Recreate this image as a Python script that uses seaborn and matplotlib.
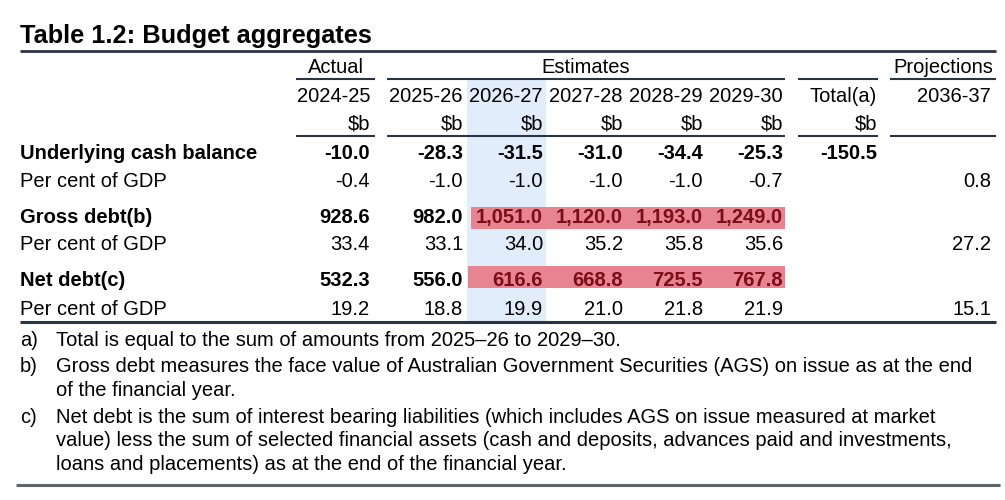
import matplotlib
matplotlib.use("Agg")
import matplotlib.pyplot as plt
import seaborn as sns
from matplotlib.patches import Rectangle

# =============================================
# TABLE 1.2 BUDGET AGGREGATES (drawn as a figure)
# =============================================

title = "Table 1.2: Budget aggregates"
years = ["2024-25", "2025-26", "2026-27", "2027-28", "2028-29", "2029-30", "Total(a)", "2036-37"]
units = ["$b", "$b", "$b", "$b", "$b", "$b", "$b", ""]

row_labels = ["Underlying cash balance", "Per cent of GDP",
              "Gross debt(b)", "Per cent of GDP",
              "Net debt(c)", "Per cent of GDP"]
row_bold = [True, False, True, False, True, False]

ucb = [-10.0, -28.3, -31.5, -31.0, -34.4, -25.3, -150.5, None]
ucb_gdp = [-0.4, -1.0, -1.0, -1.0, -1.0, -0.7, None, 0.8]
gross_debt = [928.6, 982.0, 1051.0, 1120.0, 1193.0, 1249.0, None, None]
gross_gdp = [33.4, 33.1, 34.0, 35.2, 35.8, 35.6, None, 27.2]
net_debt = [532.3, 556.0, 616.6, 668.8, 725.5, 767.8, None, None]
net_gdp = [19.2, 18.8, 19.9, 21.0, 21.8, 21.9, None, 15.1]
rows = [ucb, ucb_gdp, gross_debt, gross_gdp, net_debt, net_gdp]

# rows / columns marked in red in the original
red_rows = [2, 4]
red_cols = [2, 3, 4, 5]

groups = ["Actual", "Estimates", "", "Projections"]

notes = [
    ("a)", ["Total is equal to the sum of amounts from 2025\u201326 to 2029\u201330."]),
    ("b)", ["Gross debt measures the face value of Australian Government Securities (AGS) on issue as at the end",
            "of the financial year."]),
    ("c)", ["Net debt is the sum of interest bearing liabilities (which includes AGS on issue measured at market",
            "value) less the sum of selected financial assets (cash and deposits, advances paid and investments,",
            "loans and placements) as at the end of the financial year."]),
]

# =============================================
# LAYOUT (pixel space)
# =============================================

sns.set_theme(style="white")
plt.rcParams["font.family"] = ["Liberation Sans", "DejaVu Sans"]

col_right = [370, 463, 543, 623, 703, 783, 877, 991]
group_span = [(296, 375), (387, 785), (798, 878), (890, 996)]
row_base = [159, 187, 223, 250, 286, 315]

ink = "#000000"
rule = "#2b3445"
fs = 14.5

fig = plt.figure(figsize=(10.05, 5.0), dpi=100)
ax = fig.add_axes([0, 0, 1, 1])
ax.set_xlim(0, 1005)
ax.set_ylim(500, 0)
ax.axis("off")

# highlighted column
ax.add_patch(Rectangle((467, 80), 79, 241, color="#e1edfb", lw=0, zorder=0))

# red cells
for r, (x0, top) in zip(red_rows, [(471, 207), (468, 266)]):
    ax.add_patch(Rectangle((x0, top), 785 - x0, 21.5, color="#e8848f", lw=0, zorder=1))

# title
ax.text(20, 42.5, title, fontsize=18.3, fontweight="bold", color=ink, va="baseline", ha="left")
ax.plot([20, 996], [51, 51], color=rule, lw=2.0, solid_capstyle="butt")

# header groups
for name, (x0, x1) in zip(groups, group_span):
    if name:
        ax.text((x0 + x1) / 2, 72.7, name, fontsize=fs, ha="center", va="baseline", color=ink)
    ax.plot([x0, x1], [79, 79], color=rule, lw=1.5, solid_capstyle="butt")
    ax.plot([x0, x1], [136, 136], color=rule, lw=1.5, solid_capstyle="butt")

for i, (yr, u) in enumerate(zip(years, units)):
    ax.text(col_right[i], 101.7, yr, fontsize=fs, ha="right", va="baseline", color=ink)
    if u:
        ax.text(col_right[i], 129.3, u, fontsize=fs, ha="right", va="baseline", color=ink)

# body
for r, (label, vals) in enumerate(zip(row_labels, rows)):
    weight = "bold" if row_bold[r] else "normal"
    ax.text(20, row_base[r], label, fontsize=fs, fontweight=weight, ha="left", va="baseline", color=ink)
    for c, v in enumerate(vals):
        if v is None:
            continue
        red = r in red_rows and c in red_cols
        ax.text(col_right[c], row_base[r], f"{v:,.1f}", fontsize=fs, fontweight=weight,
                ha="right", va="baseline", color="#7b0c19" if red else ink, zorder=3)

ax.plot([20, 996], [322, 322], color=rule, lw=2.2, solid_capstyle="butt")

# footnotes
y = 345.5
for tag, lines in notes:
    ax.text(20, y, tag, fontsize=fs, ha="left", va="baseline", color=ink)
    for line in lines:
        ax.text(56, y, line, fontsize=fs, ha="left", va="baseline", color=ink)
        y += 23.5
    y += 3.5

ax.plot([16, 1000], [485, 485], color="#5f646b", lw=2.2, solid_capstyle="butt")

fig.savefig("out.png", dpi=100, facecolor="white")
